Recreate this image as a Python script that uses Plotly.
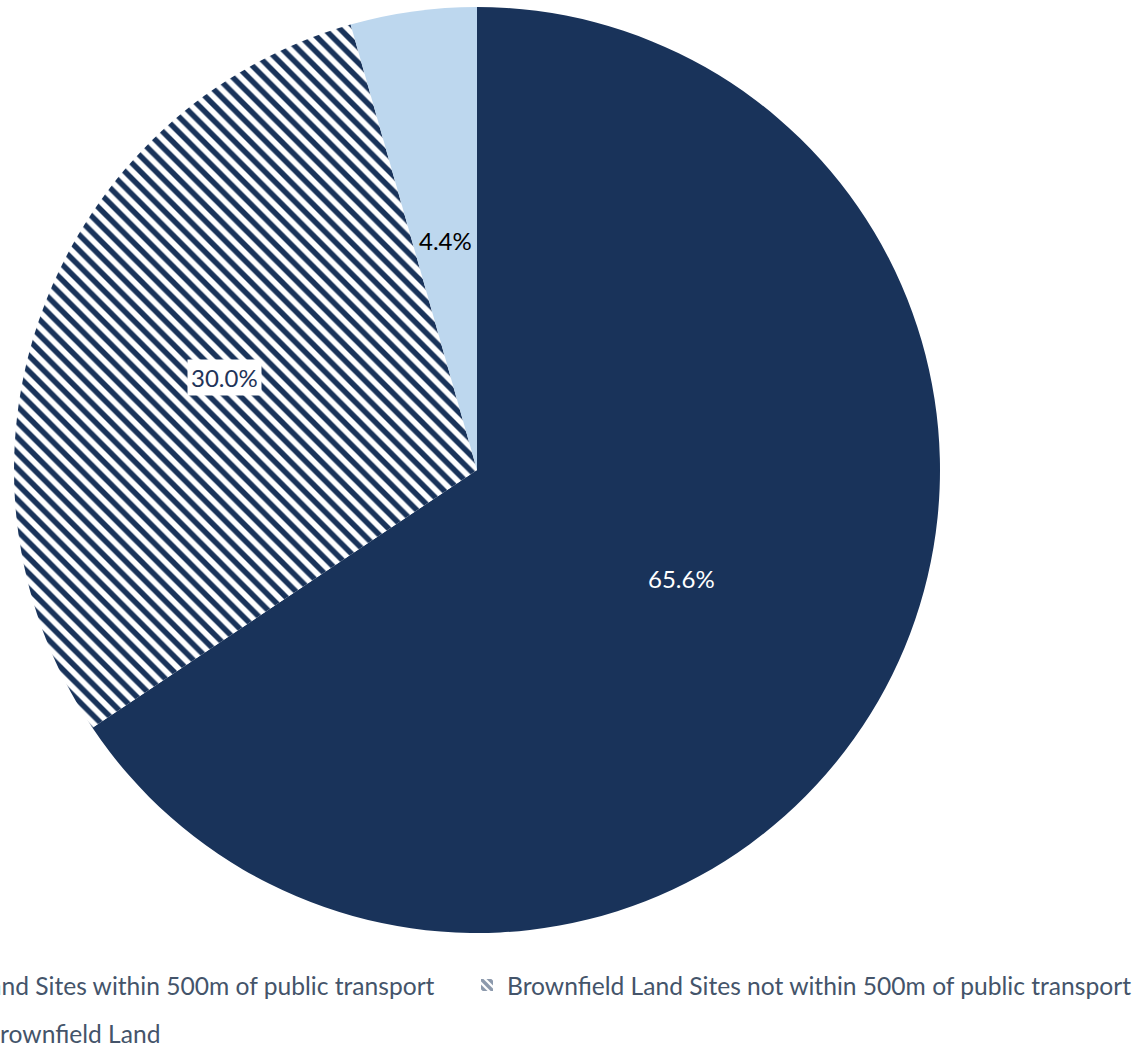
import math
import plotly.graph_objects as go

# Share of sites by category (percent)
categories = [
    "Brownfield Land Sites within 500m of public transport",
    "Brownfield Land Sites not within 500m of public transport",
    "Greenfield/Brownfield Land",
]
shares = [65.6, 30.0, 4.4]

# Slice styling
NAVY = "#19335A"
LIGHT = "#BDD7EE"
slice_colors = [NAVY, "#FFFFFF", LIGHT]
slice_patterns = ["", "\\", ""]
label_colors = ["#FFFFFF", "#1F3459", "#000000"]
label_bg = ["rgba(0,0,0,0)", "#FFFFFF", "rgba(0,0,0,0)"]
label_radius = [0.5, 0.58, 0.5]

W, H = 1138, 1048
CX, CY, R = 477, 470, 463          # pie centre and radius in pixels
FONT = "Lato"
LEGEND_FS = 24.6
LABEL_FS = 24
LEGEND_COLOR = "#44546A"

fig = go.Figure()

fig.add_trace(go.Pie(
    labels=categories,
    values=shares,
    sort=False,
    direction="clockwise",
    rotation=0,
    textinfo="none",
    hoverinfo="label+percent",
    showlegend=False,
    marker=dict(
        colors=slice_colors,
        line=dict(width=0),
        pattern=dict(shape=slice_patterns, fgcolor=NAVY, bgcolor=slice_colors,
                     size=11, solidity=0.5),
    ),
    domain=dict(
        x=[(CX - R) / W, (CX + R) / W],
        y=[(H - CY - R) / H, (H - CY + R) / H],
    ),
))

# Percentage labels placed along each slice's bisector
total = sum(shares)
cum = 0.0
for i, v in enumerate(shares):
    mid = (cum + v / 2) / total * 2 * math.pi
    cum += v
    px = CX + label_radius[i] * R * math.sin(mid)
    py = CY - label_radius[i] * R * math.cos(mid)
    fig.add_annotation(
        x=px / W, y=(H - py) / H, xref="paper", yref="paper",
        xanchor="center", yanchor="middle",
        text=f"{v / total * 100:.1f}%", showarrow=False,
        font=dict(family=FONT, size=LABEL_FS, color=label_colors[i]),
        bgcolor=label_bg[i], borderpad=3,
    )

# Legend entries, one legend per entry so each can sit in its own slot
legend_ids = ["legend", "legend2", "legend3"]
for i, name in enumerate(categories):
    fig.add_trace(go.Bar(
        x=[None], y=[None], name=name, legend=legend_ids[i],
        marker=dict(color=slice_colors[i], line=dict(width=0),
                    pattern=dict(shape=slice_patterns[i], fgcolor=NAVY,
                                 bgcolor=slice_colors[i], size=7, solidity=0.6)),
        hoverinfo="skip",
    ))

leg_common = dict(orientation="h", xanchor="left", yanchor="middle",
                  font=dict(family=FONT, size=LEGEND_FS, color=LEGEND_COLOR),
                  bgcolor="rgba(0,0,0,0)", borderwidth=0)
# legend text starts 40px right of each legend's origin
COL1_TEXT = -147
COL2_TEXT = 507
ROW2_TEXT = -139
fig.update_layout(
    width=W, height=H,
    margin=dict(l=0, r=0, t=0, b=0, autoexpand=False),
    paper_bgcolor="white", plot_bgcolor="white",
    xaxis=dict(visible=False), yaxis=dict(visible=False),
    legend=dict(x=(COL1_TEXT - 40) / W, y=(H - 985) / H, **leg_common),
    legend2=dict(x=(COL2_TEXT - 40) / W, y=(H - 985) / H, **leg_common),
    legend3=dict(x=(ROW2_TEXT - 40) / W, y=(H - 1033) / H, **leg_common),
)

fig.write_html("out.html")
